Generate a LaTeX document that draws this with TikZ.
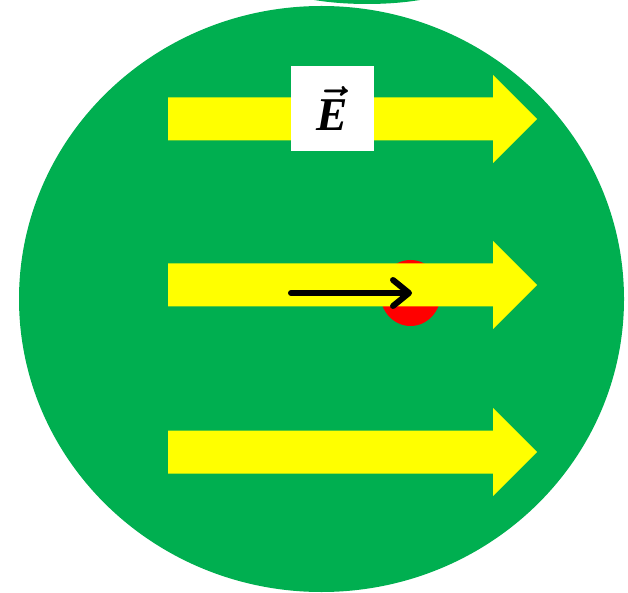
\documentclass[tikz,border=0pt]{standalone}
\usepackage{amsmath}
\usepackage{graphicx}
\usepackage{fontspec}
\setmainfont{Liberation Serif}
\usepackage{tikz}
\usetikzlibrary{arrows.meta}
\definecolor{EFGreen}{HTML}{00AF50}
\definecolor{EFYellow}{HTML}{FFFF00}
\definecolor{EFRed}{HTML}{FF0000}

\begin{document}
\begin{tikzpicture}[x=1pt,y=1pt]
\path[use as bounding box] (0,0) rectangle (628,592);
\clip (0,0) rectangle (628,592);
\fill[EFGreen] (367,614.5) ellipse [x radius=100, y radius=26.5];
\fill[EFGreen] (321.5,293) ellipse [x radius=302.5, y radius=293];
\fill[EFRed] (410.5,299) ellipse [x radius=30.5, y radius=33];
\fill[EFYellow] (168,494.5) -- (493,494.5) -- (493,517) -- (537,473) -- (493,429) -- (493,451.5) -- (168,451.5) -- cycle;
\fill[EFYellow] (168,328.5) -- (493,328.5) -- (493,351) -- (537,307) -- (493,263) -- (493,285.5) -- (168,285.5) -- cycle;
\fill[EFYellow] (168,161.5) -- (493,161.5) -- (493,184) -- (537,140) -- (493,96) -- (493,118.5) -- (168,118.5) -- cycle;
\node[fill=white,inner sep=0pt,minimum width=83pt,minimum height=85pt] (Elabel) at (332.5,483.5) {\scalebox{4.7}{$\boldsymbol{\vec{\textbf{\textit{E}}}}$}};
\coordinate (forcetail) at (291,299);
\coordinate (forcetip) at (412,299);
\draw[line width=6pt,line cap=round,-{Straight Barb[length=16pt,width=26pt,round]}] (forcetail) -- (forcetip);
\end{tikzpicture}
\end{document}
